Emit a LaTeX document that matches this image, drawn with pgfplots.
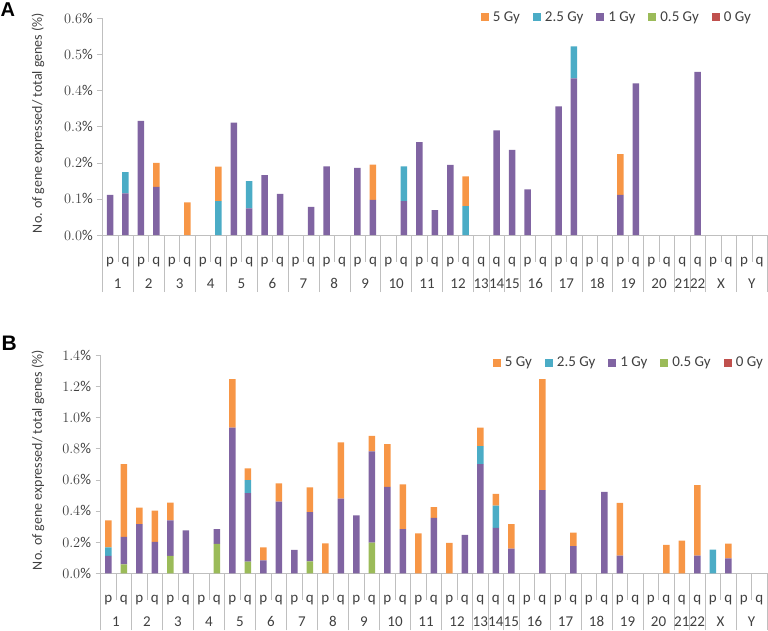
\documentclass[border=0pt]{standalone}
\usepackage{pgfplots}
\usepackage{pgfplotstable}
\usepackage{fontspec}
\pgfplotsset{compat=1.18}
\setmainfont{Carlito}
\newfontfamily\panelfont{Liberation Sans}
\definecolor{c5}{HTML}{F79646}
\definecolor{c25}{HTML}{4BACC6}
\definecolor{c1}{HTML}{8064A2}
\definecolor{c05}{HTML}{9BBB59}
\definecolor{c0}{HTML}{C0504D}
\definecolor{axgray}{HTML}{BFBFBF}
\definecolor{txt}{HTML}{404040}

% x g0 g05 g1 g25 g5  (percent)
\pgfplotstableread{
x g0 g05 g1 g25 g5
0 0 0 0.111 0 0
1 0 0 0.115 0.059 0
2 0 0 0.316 0 0
3 0 0 0.133 0 0.067
4 0 0 0 0 0
5 0 0 0 0 0.090
6 0 0 0 0 0
7 0 0 0 0.094 0.095
8 0 0 0.311 0 0
9 0 0 0.074 0.075 0
10 0 0 0.166 0 0
11 0 0 0.114 0 0
12 0 0 0 0 0
13 0 0 0.078 0 0
14 0 0 0.190 0 0
15 0 0 0 0 0
16 0 0 0.186 0 0
17 0 0 0.097 0 0.098
18 0 0 0 0 0
19 0 0 0.094 0.096 0
20 0 0 0.257 0 0
21 0 0 0.069 0 0
22 0 0 0.194 0 0
23 0 0 0 0.080 0.082
24 0 0 0 0 0
25 0 0 0.290 0 0
26 0 0 0.236 0 0
27 0 0 0.126 0 0
28 0 0 0 0 0
29 0 0 0.356 0 0
30 0 0 0.434 0.088 0
31 0 0 0 0 0
32 0 0 0 0 0
33 0 0 0.111 0 0.113
34 0 0 0.420 0 0
35 0 0 0 0 0
36 0 0 0 0 0
37 0 0 0 0 0
38 0 0 0.452 0 0
39 0 0 0 0 0
40 0 0 0 0 0
41 0 0 0 0 0
42 0 0 0 0 0
}\tableA

\pgfplotstableread{
x g0 g05 g1 g25 g5
0 0 0 0.111 0.056 0.173
1 0 0.058 0.175 0 0.468
2 0 0 0.316 0 0.105
3 0 0 0.201 0 0.201
4 0 0.111 0.229 0 0.113
5 0 0 0.275 0 0
6 0 0 0 0 0
7 0 0.188 0.096 0 0
8 0 0 0.934 0 0.312
9 0 0.075 0.440 0.083 0.075
10 0 0 0.083 0 0.084
11 0 0 0.460 0 0.117
12 0 0 0.150 0 0
13 0 0.077 0.316 0 0.158
14 0 0 0 0 0.192
15 0 0 0.479 0 0.361
16 0 0 0.372 0 0
17 0 0.197 0.585 0 0.099
18 0 0 0.554 0 0.275
19 0 0 0.284 0 0.287
20 0 0 0 0 0.256
21 0 0 0.355 0 0.070
22 0 0 0 0 0.195
23 0 0 0.246 0 0
24 0 0 0.701 0.115 0.118
25 0 0 0.291 0.143 0.075
26 0 0 0.158 0 0.158
27 0 0 0 0 0
28 0 0 0.534 0 0.712
29 0 0 0 0 0
30 0 0 0.175 0 0.086
31 0 0 0 0 0
32 0 0 0.522 0 0
33 0 0 0.113 0 0.338
34 0 0 0 0 0
35 0 0 0 0 0
36 0 0 0 0 0.182
37 0 0 0 0 0.209
38 0 0 0.113 0 0.453
39 0 0 0 0.152 0
40 0 0 0.096 0 0.094
41 0 0 0 0 0
42 0 0 0 0 0
}\tableB

\newcommand\tfont{\fontsize{15bp}{17bp}\selectfont}
\tikzset{grp/.style={anchor=base, yshift=-53bp, font=\tfont, text=txt, inner sep=0pt}}

\newcommand\grouplabels{%
\node[grp] at (axis cs:0.5,0) {1};
\node[grp] at (axis cs:2.5,0) {2};
\node[grp] at (axis cs:4.5,0) {3};
\node[grp] at (axis cs:6.5,0) {4};
\node[grp] at (axis cs:8.5,0) {5};
\node[grp] at (axis cs:10.5,0) {6};
\node[grp] at (axis cs:12.5,0) {7};
\node[grp] at (axis cs:14.5,0) {8};
\node[grp] at (axis cs:16.5,0) {9};
\node[grp] at (axis cs:18.5,0) {10};
\node[grp] at (axis cs:20.5,0) {11};
\node[grp] at (axis cs:22.5,0) {12};
\node[grp] at (axis cs:24,0) {13};
\node[grp] at (axis cs:25,0) {14};
\node[grp] at (axis cs:26,0) {15};
\node[grp] at (axis cs:27.5,0) {16};
\node[grp] at (axis cs:29.5,0) {17};
\node[grp] at (axis cs:31.5,0) {18};
\node[grp] at (axis cs:33.5,0) {19};
\node[grp] at (axis cs:35.5,0) {20};
\node[grp] at (axis cs:37,0) {21};
\node[grp] at (axis cs:38,0) {22};
\node[grp] at (axis cs:39.5,0) {X};
\node[grp] at (axis cs:41.5,0) {Y};
}

\pgfplotsset{
  chromaxis/.style={
    scale only axis,
    ybar stacked,
    bar width=6.5bp,
    axis lines=left,
    axis line style={draw=axgray,-},
    xmin=-0.5, xmax=42.5, ymin=0,
    clip=false,
    tick align=outside,
    major tick length=5bp,
    minor tick length=27bp,
    every tick/.style={draw=axgray},
    xtick={0,...,42},
    xticklabels={p,q,p,q,p,q,p,q,p,q,p,q,p,q,p,q,p,q,p,q,p,q,p,q,q,q,q,p,q,p,q,p,q,p,q,p,q,q,q,p,q,p,q},
    major x tick style={draw=none},
    minor xtick={0.5,2.5,4.5,6.5,8.5,10.5,12.5,14.5,16.5,18.5,20.5,22.5,27.5,29.5,31.5,33.5,35.5,39.5,41.5},
    extra x ticks={-0.5,1.5,3.5,5.5,7.5,9.5,11.5,13.5,15.5,17.5,19.5,21.5,23.5,24.5,25.5,26.5,28.5,30.5,32.5,34.5,36.5,37.5,38.5,40.5,42.5},
    extra x tick labels={},
    extra x tick style={major tick length=57bp, major x tick style={draw=axgray}},
    xticklabel style={anchor=base, yshift=-24bp, font=\tfont, text=txt},
    yticklabel style={font=\tfont, text=txt, xshift=-1bp},
    yticklabel={\pgfmathprintnumber[fixed,fixed zerofill,precision=1]{\tick}\%},
    legend columns=-1,
    legend style={draw=none, fill=none, font=\tfont, text=txt, inner sep=0pt,
      nodes={inner sep=0pt},
      /tikz/every odd column/.append style={column sep=4bp},
      /tikz/every even column/.append style={column sep=13bp}},
    legend image code/.code={\fill[##1] (0bp,-4bp) rectangle (8bp,4bp);},
    reverse legend,
  },
}

\begin{document}
\begin{tikzpicture}
\path[use as bounding box] (0,0) rectangle (768bp,-631bp);

% Panel A
\begin{axis}[chromaxis,
  at={(102.3bp,-235bp)}, anchor=south west,
  width=665bp, height=216.7bp,
  ymax=0.6, ytick={0,0.1,...,0.6},
  legend style={at={(rel axis cs:0.9755,1.006)}, anchor=east}]
\addplot[fill=c0, draw=none] table[x=x,y=g0]{\tableA};
\addplot[fill=c05, draw=none] table[x=x,y=g05]{\tableA};
\addplot[fill=c1, draw=none] table[x=x,y=g1]{\tableA};
\addplot[fill=c25, draw=none] table[x=x,y=g25]{\tableA};
\addplot[fill=c5, draw=none] table[x=x,y=g5]{\tableA};
\legend{0 Gy,0.5 Gy,1 Gy,2.5 Gy,5 Gy}
\grouplabels
\end{axis}

% Panel B
\begin{axis}[chromaxis,
  at={(100.5bp,-573.3bp)}, anchor=south west,
  width=666.5bp, height=218.3bp,
  ymax=1.4, ytick={0,0.2,...,1.4},
  legend style={at={(rel axis cs:0.994,0.965)}, anchor=east}]
\addplot[fill=c0, draw=none] table[x=x,y=g0]{\tableB};
\addplot[fill=c05, draw=none] table[x=x,y=g05]{\tableB};
\addplot[fill=c1, draw=none] table[x=x,y=g1]{\tableB};
\addplot[fill=c25, draw=none] table[x=x,y=g25]{\tableB};
\addplot[fill=c5, draw=none] table[x=x,y=g5]{\tableB};
\legend{0 Gy,0.5 Gy,1 Gy,2.5 Gy,5 Gy}
\grouplabels
\end{axis}

\node[rotate=90, text=txt, font=\fontsize{14bp}{16bp}\selectfont] at (38bp,-123bp) {No. of gene expressed/ total genes (\%)};
\node[rotate=90, text=txt, font=\fontsize{14bp}{16bp}\selectfont] at (38bp,-460bp) {No. of gene expressed/ total genes (\%)};
\node[anchor=base west, inner sep=0pt, font=\panelfont\bfseries\fontsize{20bp}{24bp}\selectfont] at (0.5bp,-16bp) {A};
\node[anchor=base west, inner sep=0pt, font=\panelfont\bfseries\fontsize{21bp}{24bp}\selectfont] at (1.5bp,-350bp) {B};
\end{tikzpicture}
\end{document}
